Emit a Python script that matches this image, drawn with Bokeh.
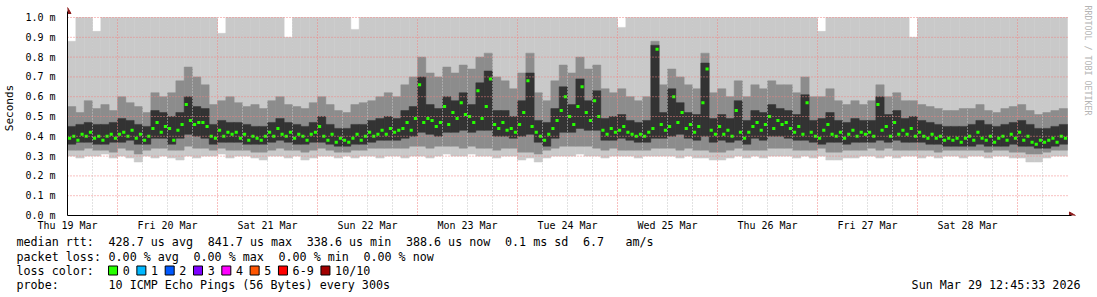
from math import pi
from bokeh.plotting import figure
from bokeh.layouts import column
from bokeh.models import Range1d, FixedTicker, PrintfTickFormatter
from bokeh.core.properties import value
from bokeh.embed import file_html
from bokeh.resources import INLINE

# ---------------- data (ms) ----------------
# hourly median samples, hour 0 = Thu 19 Mar 12:00
median_rtt = [
    0.39,0.40,0.38,0.41,0.40,0.42,0.39,0.40,0.38,0.40,0.41,0.39,0.41,0.42,0.40,0.43,0.39,0.41,0.38,0.40,0.44,0.47,0.42,0.45,
    0.44,0.38,0.43,0.46,0.56,0.48,0.46,0.47,0.47,0.45,0.40,0.39,0.43,0.40,0.42,0.41,0.42,0.39,0.41,0.38,0.40,0.39,0.38,0.40,
    0.42,0.40,0.44,0.41,0.40,0.42,0.39,0.41,0.40,0.38,0.41,0.42,0.45,0.40,0.38,0.41,0.37,0.39,0.38,0.37,0.39,0.41,0.38,0.40,
    0.42,0.40,0.41,0.43,0.41,0.44,0.42,0.43,0.44,0.47,0.43,0.49,0.66,0.47,0.49,0.48,0.45,0.47,0.55,0.46,0.52,0.49,0.57,0.51,
    0.50,0.47,0.63,0.49,0.55,0.69,0.46,0.44,0.47,0.43,0.44,0.42,0.46,0.52,0.68,0.45,0.42,0.40,0.38,0.41,0.44,0.48,0.53,0.60,
    0.50,0.46,0.55,0.65,0.52,0.48,0.58,0.50,0.43,0.41,0.44,0.42,0.43,0.45,0.42,0.41,0.40,0.41,0.40,0.42,0.44,0.84,0.46,0.43,
    0.45,0.60,0.47,0.52,0.44,0.46,0.42,0.45,0.57,0.74,0.43,0.41,0.45,0.41,0.43,0.40,0.53,0.42,0.39,0.42,0.45,0.47,0.43,0.46,
    0.50,0.44,0.48,0.46,0.47,0.44,0.42,0.45,0.41,0.57,0.42,0.40,0.39,0.43,0.46,0.41,0.40,0.42,0.39,0.41,0.43,0.40,0.42,0.41,
    0.42,0.40,0.56,0.43,0.45,0.40,0.47,0.41,0.43,0.41,0.44,0.40,0.42,0.40,0.39,0.41,0.39,0.40,0.38,0.39,0.38,0.39,0.37,0.39,
    0.40,0.38,0.42,0.39,0.38,0.40,0.37,0.39,0.40,0.38,0.41,0.39,0.42,0.38,0.40,0.37,0.36,0.38,0.37,0.38,0.39,0.37,0.40,0.39,
]
hours = list(range(240))

# smoke envelopes, 2-hour steps (top of graph = 1.0)
hours2 = list(range(0, 240, 2))
ping_min = [
    0.30,0.29,0.30,0.30,0.31,0.29,0.30,0.29,0.27,0.30,0.29,0.30,
    0.29,0.28,0.30,0.29,0.30,0.30,0.31,0.29,0.30,0.30,0.29,0.28,
    0.30,0.30,0.29,0.30,0.28,0.29,0.30,0.30,0.29,0.30,0.29,0.30,
    0.30,0.29,0.30,0.30,0.29,0.30,0.30,0.29,0.30,0.31,0.30,0.30,
    0.31,0.30,0.30,0.29,0.30,0.30,0.28,0.29,0.27,0.29,0.30,0.30,
    0.30,0.31,0.30,0.30,0.29,0.30,0.30,0.30,0.29,0.30,0.30,0.30,
    0.30,0.29,0.30,0.29,0.29,0.28,0.28,0.29,0.30,0.29,0.30,0.29,
    0.30,0.30,0.30,0.29,0.30,0.29,0.30,0.28,0.28,0.29,0.29,0.30,
    0.30,0.29,0.30,0.29,0.30,0.30,0.29,0.30,0.29,0.30,0.30,0.29,
    0.30,0.30,0.29,0.30,0.30,0.29,0.29,0.27,0.27,0.29,0.30,0.30,
]
ping_lo2 = [
    0.33,0.33,0.34,0.33,0.33,0.32,0.34,0.33,0.31,0.33,0.34,0.34,
    0.33,0.33,0.35,0.34,0.34,0.33,0.34,0.33,0.33,0.33,0.32,0.32,
    0.33,0.34,0.33,0.33,0.32,0.33,0.34,0.33,0.32,0.32,0.33,0.33,
    0.34,0.34,0.34,0.34,0.34,0.35,0.35,0.34,0.35,0.35,0.35,0.34,
    0.35,0.34,0.34,0.33,0.34,0.34,0.32,0.32,0.31,0.33,0.34,0.35,
    0.35,0.35,0.35,0.34,0.33,0.34,0.33,0.33,0.33,0.33,0.34,0.34,
    0.34,0.33,0.34,0.33,0.33,0.32,0.32,0.33,0.34,0.33,0.33,0.33,
    0.34,0.34,0.34,0.33,0.33,0.33,0.34,0.32,0.32,0.33,0.33,0.33,
    0.34,0.33,0.34,0.33,0.33,0.33,0.33,0.33,0.32,0.33,0.33,0.33,
    0.33,0.33,0.32,0.33,0.33,0.32,0.32,0.31,0.31,0.32,0.33,0.33,
]
ping_lo1 = [
    0.36,0.37,0.37,0.36,0.36,0.37,0.37,0.38,0.36,0.36,0.39,0.39,
    0.36,0.39,0.41,0.40,0.39,0.36,0.37,0.37,0.37,0.36,0.36,0.36,
    0.37,0.38,0.37,0.36,0.36,0.37,0.37,0.36,0.35,0.35,0.36,0.36,
    0.37,0.38,0.38,0.38,0.39,0.40,0.42,0.41,0.40,0.42,0.42,0.43,
    0.42,0.43,0.43,0.40,0.40,0.39,0.40,0.41,0.37,0.35,0.39,0.42,
    0.42,0.44,0.43,0.43,0.38,0.38,0.39,0.38,0.37,0.37,0.39,0.39,
    0.40,0.41,0.39,0.38,0.40,0.37,0.38,0.37,0.38,0.36,0.39,0.38,
    0.40,0.40,0.39,0.38,0.38,0.37,0.36,0.37,0.37,0.36,0.37,0.37,
    0.37,0.38,0.37,0.38,0.37,0.37,0.37,0.36,0.36,0.35,0.35,0.35,
    0.35,0.36,0.35,0.35,0.35,0.36,0.35,0.35,0.34,0.34,0.35,0.36,
]
ping_hi1 = [
    0.45,0.46,0.47,0.46,0.46,0.47,0.49,0.48,0.46,0.45,0.53,0.52,
    0.50,0.52,0.60,0.55,0.54,0.46,0.48,0.47,0.47,0.46,0.45,0.45,
    0.47,0.49,0.47,0.46,0.45,0.47,0.50,0.46,0.44,0.44,0.46,0.46,
    0.48,0.49,0.50,0.49,0.53,0.55,0.70,0.56,0.54,0.60,0.58,0.62,
    0.56,0.67,0.73,0.53,0.53,0.50,0.58,0.72,0.48,0.47,0.54,0.65,
    0.56,0.69,0.58,0.63,0.49,0.50,0.51,0.48,0.47,0.48,0.86,0.52,
    0.64,0.57,0.52,0.51,0.77,0.49,0.51,0.49,0.58,0.48,0.53,0.52,
    0.56,0.54,0.53,0.51,0.61,0.48,0.49,0.52,0.48,0.47,0.49,0.48,
    0.48,0.60,0.51,0.53,0.49,0.50,0.48,0.47,0.46,0.45,0.45,0.45,
    0.46,0.48,0.46,0.45,0.46,0.47,0.48,0.46,0.44,0.44,0.45,0.46,
]
ping_hi2 = [
    0.55,0.52,0.58,0.54,0.56,0.53,0.60,0.57,0.55,0.52,0.62,0.60,
    0.62,0.68,0.75,0.70,0.66,0.56,0.58,0.60,0.57,0.55,0.56,0.54,
    0.58,0.60,0.56,0.55,0.54,0.57,0.60,0.56,0.53,0.52,0.56,0.57,
    0.58,0.60,0.62,0.60,0.66,0.70,0.80,0.72,0.70,0.75,0.72,0.76,
    0.74,0.80,0.82,0.70,0.68,0.64,0.72,0.82,0.62,0.58,0.68,0.76,
    0.72,0.80,0.74,0.76,0.64,0.62,0.64,0.60,0.58,0.60,0.88,0.66,
    0.74,0.70,0.66,0.64,0.82,0.62,0.64,0.60,0.68,0.60,0.66,0.64,
    0.68,0.66,0.66,0.62,0.70,0.60,0.60,0.64,0.58,0.56,0.58,0.56,
    0.58,0.66,0.60,0.62,0.58,0.58,0.56,0.55,0.54,0.53,0.53,0.54,
    0.54,0.56,0.53,0.52,0.54,0.55,0.56,0.53,0.51,0.52,0.53,0.54,
]
ping_max = [
    0.88,1.00,1.00,0.93,1.00,1.00,1.00,1.00,1.00,1.00,1.00,1.00,
    1.00,1.00,1.00,1.00,1.00,1.00,0.92,1.00,1.00,1.00,1.00,1.00,
    1.00,1.00,0.90,1.00,1.00,1.00,1.00,1.00,1.00,1.00,0.94,1.00,
    1.00,1.00,1.00,1.00,1.00,1.00,1.00,1.00,1.00,1.00,1.00,1.00,
    1.00,1.00,1.00,1.00,1.00,1.00,1.00,1.00,1.00,1.00,1.00,1.00,
    1.00,1.00,1.00,1.00,1.00,1.00,0.95,1.00,1.00,1.00,1.00,1.00,
    1.00,1.00,1.00,1.00,1.00,1.00,1.00,1.00,1.00,1.00,1.00,1.00,
    1.00,1.00,1.00,1.00,1.00,1.00,0.93,1.00,1.00,1.00,1.00,1.00,
    1.00,1.00,1.00,1.00,1.00,0.90,1.00,1.00,1.00,1.00,1.00,1.00,
    1.00,1.00,1.00,1.00,1.00,1.00,1.00,1.00,1.00,1.00,1.00,1.00,
]

day_ticks = [0, 24, 48, 72, 96, 120, 144, 168, 192, 216]
day_labels = ["Thu 19 Mar", "Fri 20 Mar", "Sat 21 Mar", "Sun 22 Mar", "Mon 23 Mar",
              "Tue 24 Mar", "Wed 25 Mar", "Thu 26 Mar", "Fri 27 Mar", "Sat 28 Mar"]
y_ticks = [0.0, 0.1, 0.2, 0.3, 0.4, 0.5, 0.6, 0.7, 0.8, 0.9, 1.0]

loss_labels = ["0", "1", "2", "3", "4", "5", "6-9", "10/10"]
loss_colors = ["#26ff00", "#00b8ff", "#0059ff", "#7e00ff", "#ff00ff", "#ff5500", "#ff0000", "#a10000"]

# ---------------- layout ----------------
FONT = "DejaVu Sans Mono"
L, B = 67, 215          # frame left / x-axis row (px)
PXH = 1000 / 240.0      # px per hour
PXV = 198.0             # px per ms
CH_H = 235              # height of chart canvas
def fx(px):
    return (px - L) / PXH
def fy(py):
    return (B - py) / PXV

p = figure(width=1097, height=CH_H, x_range=Range1d(0, fx(1097)), y_range=Range1d(0, fy(0)),
           output_backend="svg", toolbar_location=None,
           min_border_left=L, min_border_right=0, min_border_top=0,
           min_border_bottom=CH_H - B)
p.frame_align = False
p.background_fill_color = "white"
p.border_fill_color = "white"
p.outline_line_color = None
p.grid.visible = False

right2 = [h + 2 for h in hours2]
p.quad(left=hours2, right=right2, bottom=ping_min, top=ping_max,
       fill_color="#c9c9c9", line_color="#c9c9c9", line_width=0.5)
p.quad(left=hours2, right=right2, bottom=ping_lo2, top=ping_hi2,
       fill_color="#8c8c8c", line_color="#8c8c8c", line_width=0.5)
p.quad(left=hours2, right=right2, bottom=ping_lo1, top=ping_hi1,
       fill_color="#333333", line_color="#333333", line_width=0.5)
p.rect(x=[h + 0.5 for h in hours], y=median_rtt, width=0.75, height=3,
       height_units="screen", fill_color="#26ff00", line_color=None)

# grid drawn above the smoke
gy = y_ticks[1:]
p.segment(x0=[0] * len(gy), y0=gy, x1=[240] * len(gy), y1=gy,
          line_color="#f08080", line_dash="1 2", line_width=1)
major_h = [h for h in range(6, 240, 6) if h % 24 == 12]
minor_h = [h for h in range(6, 240, 6) if h % 24 != 12]
p.segment(x0=minor_h, y0=[0] * len(minor_h), x1=minor_h, y1=[1.0] * len(minor_h),
          line_color="#c4c4c4", line_dash="1 2", line_width=1)
p.segment(x0=major_h, y0=[0] * len(major_h), x1=major_h, y1=[1.0] * len(major_h),
          line_color="#f08080", line_dash="1 2", line_width=1)

# axes
p.xaxis.ticker = FixedTicker(ticks=day_ticks)
p.xaxis.major_label_overrides = {t: s for t, s in zip(day_ticks, day_labels)}
p.xaxis.bounds = (0, fx(1071))
p.yaxis.ticker = FixedTicker(ticks=y_ticks)
p.yaxis.formatter = PrintfTickFormatter(format="%.1f m")
p.yaxis.bounds = (0, fy(11))
for ax in (p.xaxis, p.yaxis):
    ax.axis_line_color = "black"
    ax.axis_line_width = 1
    ax.major_tick_line_color = None
    ax.minor_tick_line_color = None
    ax.major_label_text_font = FONT
    ax.major_label_text_font_size = "10px"
    ax.major_label_text_color = "black"
p.xaxis.major_label_standoff = -2
p.yaxis.major_label_standoff = 6
p.yaxis.axis_label = "Seconds"
p.yaxis.axis_label_text_font = FONT
p.yaxis.axis_label_text_font_size = "11px"
p.yaxis.axis_label_text_font_style = "normal"
p.yaxis.axis_label_text_color = "black"
p.yaxis.axis_label_standoff = 6

# arrow heads
p.scatter(x=[0], y=[fy(11)], marker="triangle", size=7, angle=0,
          fill_color="#8b1a1a", line_color="#8b1a1a")
p.scatter(x=[fx(1071)], y=[0], marker="triangle", size=7, angle=-pi / 2,
          fill_color="#8b1a1a", line_color="#8b1a1a")

# vendor text at right
p.text(x=[fx(1087)], y=[fy(60)], text=["RRDTOOL / TOBI OETIKER"], angle=-pi / 2,
       text_align="center", text_baseline="middle", text_font=value(FONT),
       text_font_size="8.3px", text_color="#b4b4b4")

# ---------------- legend canvas (pixel coordinates) ----------------
LG_H = 297 - CH_H
lg = figure(width=1097, height=LG_H, x_range=Range1d(0, 1097), y_range=Range1d(LG_H, 0),
            output_backend="svg", toolbar_location=None, x_axis_type=None, y_axis_type=None,
            min_border=0, min_border_left=0, min_border_right=0, min_border_top=0, min_border_bottom=0)
lg.frame_align = False
lg.background_fill_color = "white"
lg.border_fill_color = "white"
lg.outline_line_color = None
lg.grid.visible = False

CW = 7.08
def col(c):
    return 16 + c * CW
rows = {1: 241 - CH_H, 2: 256 - CH_H, 3: 270 - CH_H, 4: 284 - CH_H}
items = [
    (1, col(0), "median rtt:"), (1, col(13), "428.7 us avg"), (1, col(27), "841.7 us max"),
    (1, col(41), "338.6 us min"), (1, col(55), "388.6 us now"), (1, col(69), "0.1 ms sd"),
    (1, col(80), "6.7"), (1, col(86), "am/s"),
    (2, col(0), "packet loss:"), (2, col(13), "0.00 % avg"), (2, col(25), "0.00 % max"),
    (2, col(37), "0.00 % min"), (2, col(49), "0.00 % now"),
    (3, col(0), "loss color:"),
    (4, col(0), "probe:"), (4, col(13), "10 ICMP Echo Pings (56 Bytes) every 300s"),
]
sq_cols = [13, 17, 21, 25, 29, 33, 37, 43]
for c, lab in zip(sq_cols, loss_labels):
    items.append((3, col(c + 2), lab))
lg.text(x=[it[1] for it in items], y=[rows[it[0]] for it in items], text=[it[2] for it in items],
        text_align="left", text_baseline="middle", text_font=value(FONT),
        text_font_size="11.7px", text_color="black")
lg.text(x=[1080], y=[rows[4]], text=["Sun Mar 29 12:45:33 2026"], text_align="right",
        text_baseline="middle", text_font=value(FONT), text_font_size="11.7px", text_color="black")
lg.rect(x=[col(c) + 4.5 for c in sq_cols], y=[rows[3]] * len(sq_cols), width=9, height=9,
        fill_color=loss_colors, line_color="black", line_width=1)

layout = column(p, lg, spacing=0)
open("out.html", "w").write(file_html(layout, INLINE))
